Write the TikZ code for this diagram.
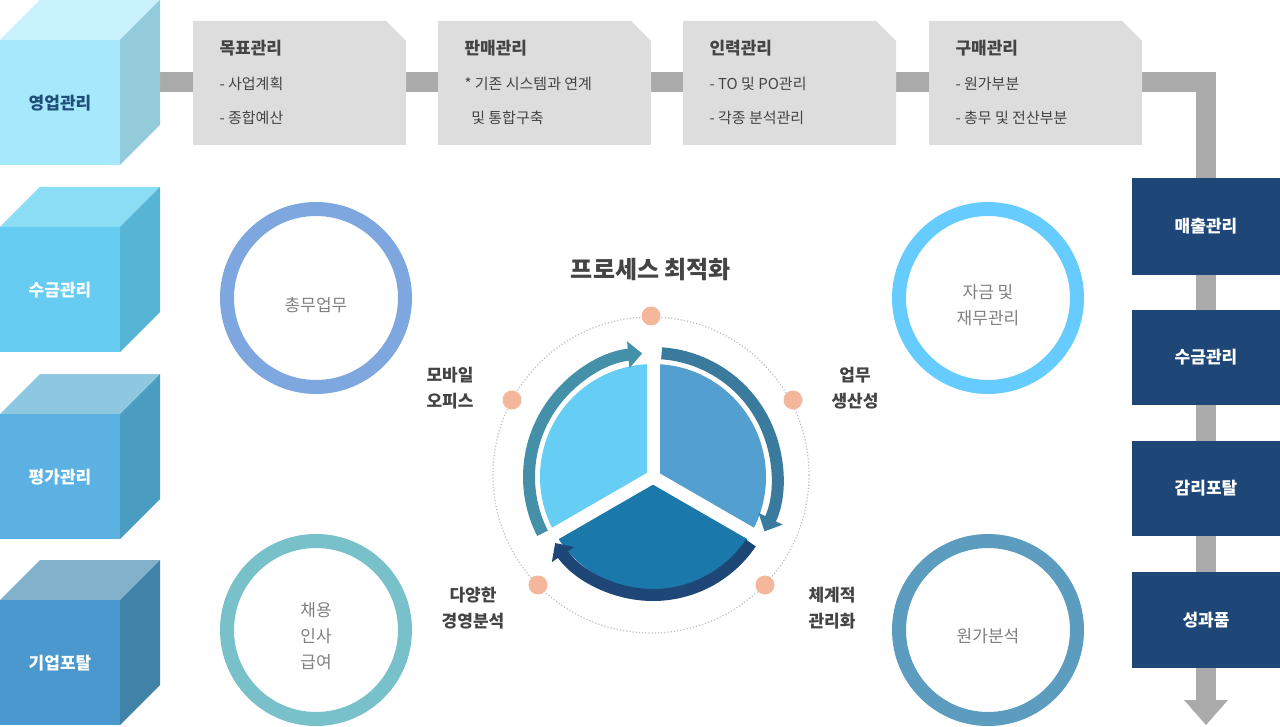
\documentclass[tikz,border=0pt]{standalone}
\usepackage{fontspec}
\setmainfont{Noto Sans CJK KR}
\usetikzlibrary{arrows.meta}
\definecolor{graybar}{HTML}{AAAAAA}
\definecolor{boxgray}{HTML}{DDDDDD}
\definecolor{navy}{HTML}{1E4677}
\definecolor{txt}{HTML}{444444}
\definecolor{ctxt}{HTML}{808080}
\definecolor{dotc}{HTML}{F4B79C}
\begin{document}
\begin{tikzpicture}[x=1pt,y=-1pt,
  gbox/.style={fill=boxgray,draw=none},
  ttl/.style={font=\fontsize{17}{20}\selectfont\bfseries,text=txt,anchor=west},
  itm/.style={font=\fontsize{15}{18}\selectfont,text=txt,anchor=west},
  navybox/.style={fill=navy,minimum width=148pt,text=white,font=\fontsize{17}{20}\selectfont\bfseries,inner sep=0},
  ring/.style={line width=14pt},
  ctext/.style={font=\fontsize{17}{26}\selectfont,text=ctxt,align=center},
  lbl/.style={font=\fontsize{17}{26}\selectfont\bfseries,text=txt,align=center},
  pdot/.style={circle,fill=dotc,minimum size=19pt,inner sep=0}]
\useasboundingbox (0,0) rectangle (1280,727);
% gray flow line
\fill[graybar] (160,72) rectangle (1216,92);
\fill[graybar] (1196,72) rectangle (1216,702);
\fill[graybar] (1184,700) -- (1228,700) -- (1206,725) -- cycle;
% cubes
\foreach \y/\f/\t/\s/\tc/\lab [count=\i] in {
  40/A6E9FC/C8F3FD/93CBDA/1F4E79/영업관리,
  227/66CCF2/8ADDF5/58B4D4/FFFFFF/수금관리,
  414/5BB2E2/8DC7E0/4A9CC0/FFFFFF/평가관리,
  600/4A98CE/82B1CB/4082A8/FFFFFF/기업포탈}{
  \definecolor{cf}{HTML}{\f}\definecolor{ct}{HTML}{\t}\definecolor{cs}{HTML}{\s}\definecolor{ctx}{HTML}{\tc}
  \fill[ct] (0,\y) -- (40,\y-40) -- (160,\y-40) -- (120,\y) -- cycle;
  \fill[cs] (120,\y) -- (160,\y-40) -- (160,\y+85) -- (120,\y+125) -- cycle;
  \fill[cf] (0,\y) rectangle (120,\y+125);
  \node[text=ctx,font=\fontsize{17}{20}\selectfont\bfseries] (cube\i) at (60,\y+63) {\lab};
}
% top boxes
\foreach \x/\t/\a/\b [count=\i] in {
  193/목표관리/- 사업계획/- 종합예산,
  438/판매관리/* 기존 시스템과 연계/\ \ 및 통합구축,
  683/인력관리/- TO 및 PO관리/- 각종 분석관리,
  929/구매관리/- 원가부분/- 총무 및 전산부분}{
  \fill[gbox] (\x,21) -- (\x+193,21) -- (\x+213,41) -- (\x+213,145) -- (\x,145) -- cycle;
  \node[ttl] (t\i) at (\x+23,48) {\t};
  \node[itm] (a\i) at (\x+23,84) {\a};
  \node[itm] (b\i) at (\x+23,118) {\b};
}
% right navy boxes
\node[navybox,minimum height=97pt] (r1) at (1206,226.5) {매출관리};
\node[navybox,minimum height=95pt] (r2) at (1206,357.5) {수금관리};
\node[navybox,minimum height=95pt] (r3) at (1206,488.5) {감리포탈};
\node[navybox,minimum height=96pt] (r4) at (1206,620) {성과품};
% rings
\draw[ring,color={rgb,255:red,127;green,167;blue,223}] (316,298) circle (89);
\node[ctext] (c1) at (316,305) {총무업무};
\draw[ring,color={rgb,255:red,102;green,204;blue,255}] (988,298) circle (89);
\node[ctext] (c2) at (988,305) {자금 및\\재무관리};
\draw[ring,color={rgb,255:red,121;green,193;blue,202}] (316,630) circle (89);
\node[ctext] (c3) at (316,636) {채용\\인사\\급여};
\draw[ring,color={rgb,255:red,91;green,156;blue,191}] (988,630) circle (89);
\node[ctext] (c4) at (988,636) {원가분석};
% center
\node[font=\fontsize{24}{28}\selectfont\bfseries,text=txt] (title) at (651,270) {프로세스 최적화};
\draw[dotted,line width=1.2pt,color=black!25] (651,475) circle (158);
\node[pdot] (d1) at (651,316) {};
\node[pdot] (d2) at (793,400) {};
\node[pdot] (d3) at (512,400) {};
\node[pdot] (d4) at (765,585) {};
\node[pdot] (d5) at (538,585) {};
\node[lbl] (l1) at (450,388) {모바일\\오피스};
\node[lbl] (l2) at (855,388) {업무\\생산성};
\node[lbl] (l3) at (473,608) {다양한\\경영분석};
\node[lbl] (l4) at (832,608) {체계적\\관리화};
\coordinate (pc) at (653,477);
\fill[color={rgb,255:red,102;green,205;blue,245}] (pc) -- ++(90:-113) arc[start angle=-90,end angle=-210,radius=113] -- cycle;
\fill[color={rgb,255:red,82;green,159;blue,208}] (pc) -- ++(-90:113) arc[start angle=-90,end angle=30,radius=113] -- cycle;
\fill[color={rgb,255:red,26;green,120;blue,170}] (pc) -- ++(30:113) arc[start angle=30,end angle=150,radius=113] -- cycle;
\draw[white,line width=13pt] (pc) -- ++(0,-130);
\draw[white,line width=13pt] (pc) -- ++(210:-130);
\draw[white,line width=13pt] (pc) -- ++(-30:-130);
% arrows (y flipped: angles measured clockwise from +x)
\draw[line width=12pt,color={rgb,255:red,68;green,144;blue,168},-{Triangle[length=14pt,width=26pt]}]
  ([shift={(153:124)}]pc) arc[start angle=153,end angle=265,radius=124];
\draw[line width=12pt,color={rgb,255:red,58;green,122;blue,156},-{Triangle[length=14pt,width=26pt]}]
  ([shift={(-86:124)}]pc) arc[start angle=-86,end angle=26,radius=124];
\draw[line width=12pt,color=navy,-{Triangle[length=14pt,width=26pt]}]
  ([shift={(34:118)}]pc) arc[start angle=34,end angle=146,radius=118];
\end{tikzpicture}
\end{document}
